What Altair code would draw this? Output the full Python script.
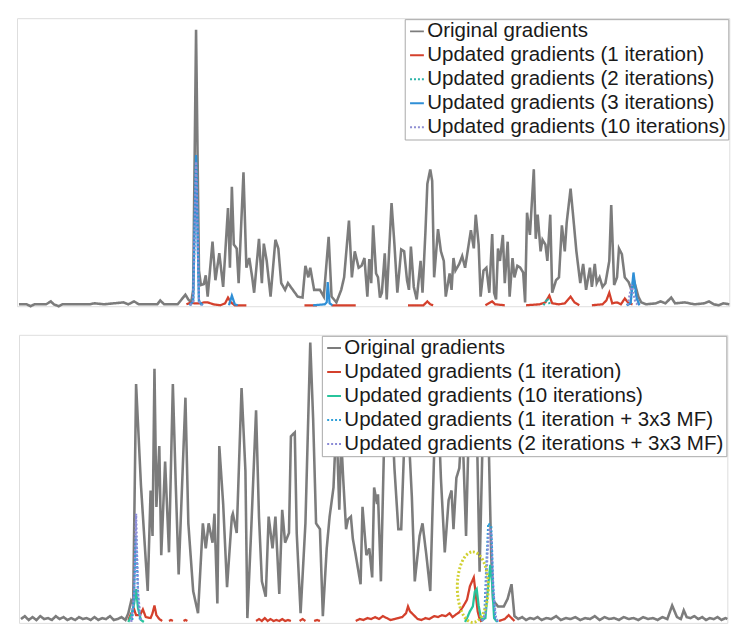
import altair as alt
import pandas as pd

# ---------------- top panel data ----------------
TOP_SERIES = [
    "Original gradients",
    "Updated gradients (1 iteration)",
    "Updated gradients (2 iterations)",
    "Updated gradients (3 iterations)",
    "Updated gradients (10 iterations)",
]
TOP_COLORS = ["#7c7c7c", "#d4402c", "#2bb3a8", "#2f8fd6", "#8e8ed2"]
TOP_DASH = [[1, 0], [1, 0], [2, 2], [1, 0], [2, 2]]

top_original = [[
    (2, 2), (10, 2), (14, 0), (18, 2), (30, 2), (35, 5), (38, 2), (43, 0), (47, 2), (75, 2),
    (80, 3), (90, 2), (110, 4), (115, 2), (121, 5), (126, 2), (145, 2), (148, 6), (152, 2),
    (166, 2), (170, 7), (174, 12), (177, 7), (180, 4), (182, 17), (185, 287), (188, 37),
    (190, 22), (193, 23), (195, 32), (197, 10), (202, 67), (205, 27), (209, 55), (213, 20),
    (218, 102), (220, 40), (222, 124), (224, 64), (227, 60), (229, 24), (234, 139), (237, 40),
    (240, 50), (243, 30), (245, 14), (250, 70), (253, 24), (255, 65), (258, 47), (262, 10),
    (267, 69), (270, 60), (273, 24), (277, 17), (280, 24), (285, 17), (290, 10), (295, 9),
    (298, 42), (301, 30), (303, 40), (307, 17), (313, 17), (317, 10), (322, 72), (325, 10),
    (330, 4), (335, 17), (338, 30), (343, 89), (346, 30), (349, 57), (353, 40), (356, 42),
    (359, 50), (362, 10), (364, 49), (366, 24), (368, 84), (371, 34), (373, 30), (375, 9),
    (377, 14), (380, 55), (382, 7), (387, 107), (390, 64), (393, 14), (397, 59), (400, 57),
    (403, 27), (405, 17), (407, 62), (410, 20), (413, 7), (417, 47), (419, 14), (422, 77),
    (424, 127), (427, 142), (429, 130), (431, 30), (435, 80), (438, 57), (441, 47), (443, 10),
    (447, 34), (449, 17), (451, 50), (453, 37), (457, 44), (460, 52), (463, 40), (469, 79),
    (472, 60), (474, 95), (477, 64), (479, 10), (482, 37), (485, 40), (488, 14), (491, 75),
    (493, 14), (495, 7), (497, 60), (499, 47), (502, 74), (504, 24), (507, 67), (509, 10),
    (512, 50), (514, 30), (517, 42), (520, 40), (523, 35), (525, 4), (527, 97), (530, 74),
    (534, 142), (536, 70), (538, 95), (541, 57), (543, 69), (546, 64), (548, 47), (551, 95),
    (553, 14), (557, 27), (560, 30), (563, 84), (566, 57), (568, 87), (572, 122), (575, 90),
    (578, 57), (582, 24), (585, 44), (588, 17), (592, 40), (594, 20), (597, 44), (599, 24),
    (602, 30), (605, 20), (608, 24), (612, 47), (614, 105), (617, 22), (620, 30), (622, 60),
    (625, 54), (628, 30), (632, 25), (635, 17), (638, 25), (642, 10), (645, 4), (650, 2),
    (660, 3), (665, 5), (670, 3), (676, 9), (680, 3), (690, 4), (700, 2), (710, 3), (715, 5),
    (720, 2), (725, 1), (730, 3), (736, 2),
]]
top_iter1 = [
    [(175, 2), (180, 4), (183, 3), (190, 3), (193, 4), (197, 4), (203, 2), (210, 1), (215, 3),
     (218, 9), (221, 4), (225, 1), (237, 1)],
    [(297, 1), (310, 1)],
    [(325, 1), (350, 1)],
    [(404, 1), (420, 1), (424, 5), (427, 2), (430, 1)],
    [(484, 1), (491, 5), (494, 2), (504, 1)],
    [(526, 1), (540, 2), (546, 4), (550, 11), (553, 3), (560, 2), (566, 3), (572, 10), (576, 4),
     (581, 1)],
    [(594, 1), (605, 2), (609, 6), (612, 14), (615, 3), (620, 4), (624, 2), (628, 8), (632, 3),
     (636, 2)],
]
top_iter2 = [
    [(179, 1), (182, 6), (185, 155), (188, 6), (191, 1)],
    [(544, 1), (548, 8), (551, 1)],
    [(630, 1), (634, 4), (637, 30), (640, 8), (643, 1)],
]
top_iter3 = [
    [(178, 1), (182, 5), (185, 157), (188, 5), (192, 1)],
    [(219, 1), (222, 11), (225, 2), (228, 1)],
    [(306, 1), (318, 2), (320, 4), (321, 25), (323, 3), (326, 1)],
    [(630, 1), (634, 3), (637, 35), (640, 10), (643, 1)],
]
top_iter10 = [
    [(179, 1), (182, 5), (185, 150), (188, 5), (191, 1)],
    [(631, 1), (635, 22), (639, 4), (642, 1)],
]
top_lines = [top_original, top_iter1, top_iter2, top_iter3, top_iter10]

# ---------------- bottom panel data ----------------
BOT_SERIES = [
    "Original gradients",
    "Updated gradients (1 iteration)",
    "Updated gradients (10 iterations)",
    "Updated gradients (1 iteration + 3x3 MF)",
    "Updated gradients (2 iterations + 3x3 MF)",
]
BOT_COLORS = ["#7c7c7c", "#d4402c", "#27c49c", "#2f9fd8", "#8a8ad6"]
BOT_DASH = [[1, 0], [1, 0], [1, 0], [2, 2], [2, 2]]

bot_original = [[
    (2, 4), (6, 7), (10, 3), (14, 6), (18, 3), (22, 7), (26, 4), (30, 5), (34, 3), (38, 7),
    (42, 4), (46, 6), (50, 3), (54, 5), (58, 3), (62, 6), (66, 4), (70, 5), (74, 3), (78, 6),
    (82, 3), (86, 5), (90, 4), (94, 7), (98, 3), (102, 4), (106, 6), (110, 3), (113, 10),
    (116, 23), (118, 20), (121, 247), (126, 143), (133, 33), (136, 137), (138, 90), (140, 263),
    (142, 120), (145, 183), (147, 70), (151, 167), (155, 73), (159, 247), (162, 143), (165, 50),
    (172, 233), (175, 103), (180, 33), (185, 10), (190, 103), (193, 77), (196, 103), (200, 83),
    (202, 113), (205, 20), (207, 183), (211, 123), (215, 37), (220, 110), (221, 113), (225, 93),
    (230, 243), (234, 157), (236, 5), (240, 97), (245, 220), (248, 110), (251, 43), (255, 27),
    (258, 110), (262, 77), (265, 110), (269, 30), (272, 117), (275, 83), (279, 93), (281, 193),
    (285, 197), (287, 93), (291, 10), (296, 103), (301, 290), (304, 210), (307, 103), (311, 97),
    (314, 7), (318, 77), (321, 110), (325, 140), (328, 210), (331, 117), (333, 190), (335, 150),
    (338, 97), (340, 107), (343, 110), (345, 87), (348, 70), (353, 40), (355, 120), (359, 70),
    (362, 77), (365, 47), (367, 140), (370, 123), (371, 133), (374, 43), (377, 173), (380, 230),
    (384, 250), (388, 160), (392, 97), (395, 97), (399, 210), (402, 210), (406, 130), (409, 43),
    (414, 90), (417, 103), (421, 70), (425, 33), (430, 210), (433, 230), (436, 150), (440, 73),
    (444, 127), (447, 137), (449, 97), (452, 150), (455, 160), (458, 210), (462, 90), (465, 210),
    (469, 190), (473, 210), (476, 53), (480, 230), (484, 250), (488, 70), (490, 23), (495, 17),
    (501, 17), (505, 25), (509, 40), (512, 7), (516, 4), (520, 6), (524, 3), (528, 5), (532, 4),
    (536, 6), (540, 3), (545, 5), (550, 4), (555, 7), (560, 3), (565, 5), (570, 4), (575, 6),
    (580, 3), (585, 5), (590, 4), (595, 7), (600, 3), (605, 6), (610, 4), (615, 5), (620, 3),
    (625, 6), (630, 4), (635, 5), (640, 3), (645, 6), (650, 4), (655, 5), (660, 3), (665, 6),
    (670, 4), (675, 18), (680, 6), (684, 4), (687, 13), (690, 6), (694, 5), (698, 7), (702, 4),
    (706, 6), (710, 3), (714, 5), (718, 4), (722, 6), (726, 3), (730, 5), (732, 4),
]]
bot_iter1 = [
    [(113, 3), (116, 10), (119, 14), (121, 8), (125, 8), (128, 14), (131, 6), (136, 5), (138, 10),
     (140, 18), (142, 8), (145, 4), (148, 2)],
    [(155, 2), (157, 3), (159, 2)],
    [(170, 2), (172, 3), (174, 2)],
    [(245, 2), (248, 4), (251, 2), (254, 5), (257, 2), (260, 4), (263, 2), (266, 3), (269, 2),
     (272, 4), (275, 2), (278, 3), (281, 2)],
    [(290, 2), (293, 4), (296, 2)],
    [(305, 2), (308, 3), (311, 2)],
    [(348, 2), (352, 4), (356, 3), (360, 5), (364, 4), (368, 6), (372, 4), (376, 7), (380, 5),
     (384, 3), (388, 4), (392, 5), (396, 6), (400, 10), (402, 17), (404, 12), (408, 8), (412, 4),
     (416, 3), (420, 5), (424, 4), (429, 7), (433, 6), (437, 8), (441, 7), (445, 10), (448, 6),
     (452, 9), (455, 11), (459, 17), (463, 24), (466, 38), (470, 47), (472, 30), (474, 12),
     (476, 4), (478, 1)],
    [(496, 2), (502, 4), (506, 8), (509, 5), (512, 2)],
]
bot_iter10 = [
    [(113, 1), (116, 8), (119, 20), (121, 35), (123, 15), (126, 3), (129, 1)],
    [(461, 1), (463, 5), (466, 12), (469, 17), (471, 32), (473, 35), (475, 18), (477, 7),
     (479, 3), (482, 5), (485, 40), (487, 60), (489, 40), (491, 5), (494, 1)],
]
bot_mf1 = [
    [(117, 3), (119, 30), (121, 90), (123, 30), (125, 3)],
    [(478, 2), (481, 8), (483, 60), (485, 103), (488, 100), (490, 40), (492, 5), (495, 1)],
]
bot_mf2 = [
    [(116, 1), (119, 30), (121, 113), (123, 30), (126, 1)],
    [(479, 2), (482, 10), (484, 70), (486, 98), (488, 95), (490, 35), (493, 4), (496, 1)],
]
bot_lines = [bot_original, bot_iter1, bot_iter10, bot_mf1, bot_mf2]

# annotation ellipse (x position, y value)
ellipse_x = [469]
ellipse_y = [37]

TOP_W, TOP_H = 722, 292
BOT_W, BOT_H = 718, 292


def to_frame(series_names, lines):
    rows = []
    for name, segs in zip(series_names, lines):
        for k, seg in enumerate(segs):
            for x, y in seg:
                rows.append({"x": x, "y": y, "series": name, "seg": f"{name}-{k}"})
    return pd.DataFrame(rows)


def legend():
    return alt.Legend(
        title=None, orient="top-right", offset=1, labelFont="Liberation Sans",
        labelFontSize=20.8, labelColor="#1a1a1a", labelLimit=1000, labelOffset=0,
        symbolType="stroke", symbolSize=196, symbolStrokeWidth=2, rowPadding=2.3,
        padding=2, strokeColor="#a8a8a8", fillColor="white", zindex=1,
    )


def panel(df, series, colors, dashes, xmax, ymax, w, h):
    base = alt.Chart(df).encode(
        x=alt.X("x:Q", scale=alt.Scale(domain=[0, xmax], nice=False, zero=False), axis=None),
        y=alt.Y("y:Q", scale=alt.Scale(domain=[0, ymax], nice=False), axis=None),
        color=alt.Color("series:N", scale=alt.Scale(domain=series, range=colors),
                        sort=series, legend=legend()),
        strokeDash=alt.StrokeDash("series:N", scale=alt.Scale(domain=series, range=dashes),
                                  sort=series, legend=legend()),
        detail="seg:N",
    )
    gray = base.transform_filter(alt.datum.series == series[0]).mark_line(strokeWidth=2.6)
    colored = base.transform_filter(alt.datum.series != series[0]).mark_line(strokeWidth=2.3)
    return alt.layer(gray, colored).properties(width=w, height=h)


top = panel(to_frame(TOP_SERIES, top_lines), TOP_SERIES, TOP_COLORS, TOP_DASH,
            736, 299, TOP_W, TOP_H)
bottom_lines = panel(to_frame(BOT_SERIES, bot_lines), BOT_SERIES, BOT_COLORS, BOT_DASH,
                     732, 298, BOT_W, BOT_H)

ellipse_path = ("M0,-1C0.243,-1,0.44,-0.552,0.44,0C0.44,0.552,0.243,1,0,1"
                "C-0.243,1,-0.44,0.552,-0.44,0C-0.44,-0.552,-0.243,-1,0,-1Z")
ell = alt.Chart(pd.DataFrame({"x": ellipse_x, "y": ellipse_y})).mark_point(
    shape=ellipse_path, size=5112, filled=False, color="#d0d030", strokeWidth=3,
    strokeDash=[2, 2], opacity=1,
).encode(
    x=alt.X("x:Q", scale=alt.Scale(domain=[0, 732], nice=False, zero=False), axis=None),
    y=alt.Y("y:Q", scale=alt.Scale(domain=[0, 298], nice=False), axis=None),
)
bottom = alt.layer(bottom_lines, ell).properties(width=BOT_W, height=BOT_H)

chart = alt.vconcat(top, bottom, spacing=22, center=True).resolve_scale(
    x="independent", y="independent", color="independent", strokeDash="independent"
).resolve_legend(color="independent", strokeDash="independent").configure_view(
    stroke="#c4c4c4", strokeWidth=1
).configure(background="white")

chart.save("out.html", embed_options={"renderer": "svg", "actions": False})
